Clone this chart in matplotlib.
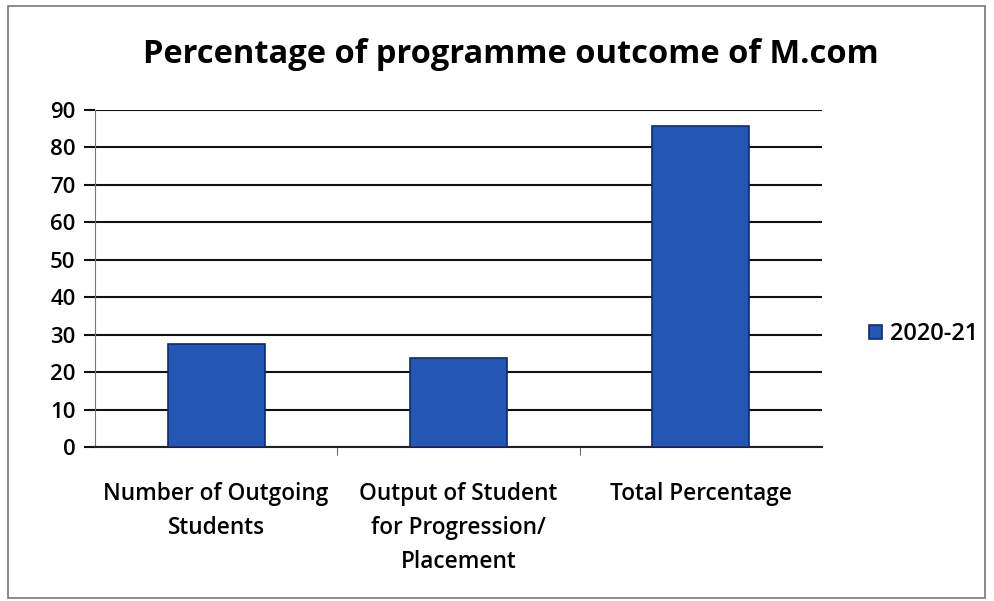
import matplotlib
matplotlib.use("Agg")
import matplotlib.pyplot as plt
from matplotlib.patches import Rectangle

categories = ["Number of Outgoing\nStudents", "Output of Student\nfor Progression/\nPlacement", "Total Percentage"]
values = [27.6, 23.8, 85.6]
series_name = "2020-21"
yticks = [0, 10, 20, 30, 40, 50, 60, 70, 80, 90]
title = "Percentage of programme outcome of M.com"

plt.rcParams['font.family'] = ['Open Sans', 'DejaVu Sans']

fig = plt.figure(figsize=(9.95, 6.01), dpi=100)
fig.patch.set_facecolor('white')
# outer chart border
fig.add_artist(Rectangle((0.008, 0.005), 0.982, 0.985, transform=fig.transFigure,
                         fill=False, edgecolor='#777777', linewidth=1.2))

ax = fig.add_axes([0.0955, 0.256, 0.7305, 0.561])
x = list(range(len(categories)))
ax.bar(x, values, width=0.4, color='#2456b4', edgecolor='#0d2a78', linewidth=1.2,
       label=series_name, zorder=3)
ax.set_xlim(-0.5, len(categories) - 0.5)
ax.set_ylim(0, 90)
ax.set_yticks(yticks)
ax.yaxis.grid(True, color='#111111', linewidth=1.5, zorder=0)
for s in ['top', 'right']:
    ax.spines[s].set_visible(False)
ax.spines['left'].set_color('#777777')
ax.spines['bottom'].set_color('#222222')
ax.spines['bottom'].set_linewidth(1.5)
ax.tick_params(axis='y', labelsize=16, length=8, width=1.5, color='#111111', pad=6)
for lab in ax.get_yticklabels():
    lab.set_fontweight(600)
ax.set_xticks(x)
ax.set_xticklabels(categories, fontsize=16.3, linespacing=1.55, fontweight=600)
ax.tick_params(axis='x', length=0, pad=25)
ax.set_xticks([0.5, 1.5], minor=True)
ax.tick_params(axis='x', which='minor', length=6, color='#444444')

fig.text(0.513, 0.910, title, ha='center', va='center', fontsize=23.5, fontweight='bold')

leg = ax.legend(loc='center left', bbox_to_anchor=(1.035, 0.335), frameon=False,
                prop={'size': 17, 'weight': 600},
                handlelength=0.55, handleheight=0.55, handletextpad=0.35)

fig.savefig("out.png", dpi=100)
